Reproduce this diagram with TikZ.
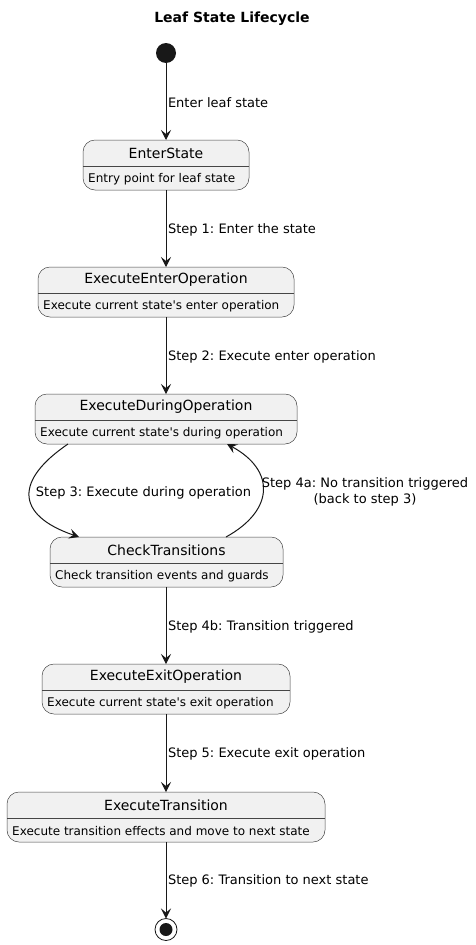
\documentclass[tikz,border=0pt]{standalone}
\usepackage{fontspec}
\setmainfont{DejaVu Sans}
\usetikzlibrary{arrows.meta,calc}
\definecolor{boxfill}{HTML}{F1F1F1}
\definecolor{edgec}{HTML}{181818}
\frenchspacing
\newcommand\mkstate[6]{%
  \node[statebox, minimum width=#4pt] (#1) at (#2, #3+25) {};
  \node[titletxt] (#1-t) at (#2, #3+13) {#5};
  \draw[divider] ([yshift=-26pt]#1.north west) -- ([yshift=-26pt]#1.north east);
  \node[desctxt] (#1-d) at ([xshift=5pt,yshift=-39pt]#1.north west) {#6};
}
\begin{document}
\begin{tikzpicture}[x=1pt,y=-1pt,
  statebox/.style={draw=edgec!80, line width=0.5pt, fill=boxfill, rounded corners=12pt,
    inner sep=0pt, outer sep=0pt, minimum height=50pt},
  titletxt/.style={inner sep=0pt, font=\fontsize{14pt}{16pt}\selectfont, text=black},
  desctxt/.style={inner sep=0pt, anchor=west, font=\fontsize{12pt}{14pt}\selectfont, text=black},
  divider/.style={draw=edgec!80, line width=0.5pt},
  lbl/.style={inner sep=0pt, font=\fontsize{13pt}{16pt}\selectfont, text=black},
  conn/.style={draw=edgec, line width=1pt, -{Stealth[length=10pt,width=10pt,inset=4pt]}},
]
\useasboundingbox (0,0) rectangle (475,945);
\fill[white] (0,0) rectangle (475,945);

\node[inner sep=0pt, font=\fontsize{14pt}{16pt}\selectfont\bfseries] (title) at (232,18.5) {Leaf State Lifecycle};

\node[circle, fill=edgec, minimum size=20pt, inner sep=0pt, outer sep=0pt] (init) at (166,53) {};

\mkstate{enter}{166}{140}{166}{EnterState}{Entry point for leaf state}
\mkstate{execenter}{166}{267}{256}{ExecuteEnterOperation}{Execute current state\textquotesingle s enter operation}
\mkstate{during}{166}{394}{262}{ExecuteDuringOperation}{Execute current state\textquotesingle s during operation}
\mkstate{check}{166.5}{537}{233}{CheckTransitions}{Check transition events and guards}
\mkstate{exit}{166}{664}{248}{ExecuteExitOperation}{Execute current state\textquotesingle s exit operation}
\mkstate{trans}{166}{792}{318}{ExecuteTransition}{Execute transition effects and move to next state}

\node[circle, draw=edgec, line width=0.8pt, fill=white, minimum size=22pt, inner sep=0pt, outer sep=0pt] (final) at (166,929.5) {};
\node[circle, fill=edgec, minimum size=13pt, inner sep=0pt] (finaldot) at (final.center) {};

\draw[conn] (init) -- (enter.north) node[lbl, midway, anchor=west, xshift=1.5pt, yshift=-1pt] (l0) {Enter leaf state};
\draw[conn] (enter.south) -- (execenter.north) node[lbl, midway, anchor=west, xshift=1.5pt, yshift=-1pt] (l1) {Step 1: Enter the state};
\draw[conn] (execenter.south) -- (during.north) node[lbl, midway, anchor=west, xshift=1.5pt, yshift=-1pt] (l2) {Step 2: Execute enter operation};
\draw[conn] ([xshift=-98pt]during.south) .. controls (15,480) and (15,515) .. ([xshift=-87.5pt]check.north);
\node[lbl] (l3) at (143.5,492.5) {Step 3: Execute during operation};
\draw[conn] ([xshift=59.5pt]check.north) .. controls (275,510) and (275,470) .. ([xshift=61pt]during.south);
\node[lbl, align=center] (l4a) at (365,491.5) {Step 4a: No transition triggered\\(back to step 3)};
\draw[conn] ([xshift=-0.5pt]check.south) -- (exit.north) node[lbl, midway, anchor=west, xshift=1.5pt, yshift=-1pt] (l4b) {Step 4b: Transition triggered};
\draw[conn] (exit.south) -- (trans.north) node[lbl, midway, anchor=west, xshift=1.5pt, yshift=-1pt] (l5) {Step 5: Execute exit operation};
\draw[conn] (trans.south) -- (final.north) node[lbl, midway, anchor=west, xshift=1.5pt, yshift=-1pt] (l6) {Step 6: Transition to next state};
\end{tikzpicture}
\end{document}
